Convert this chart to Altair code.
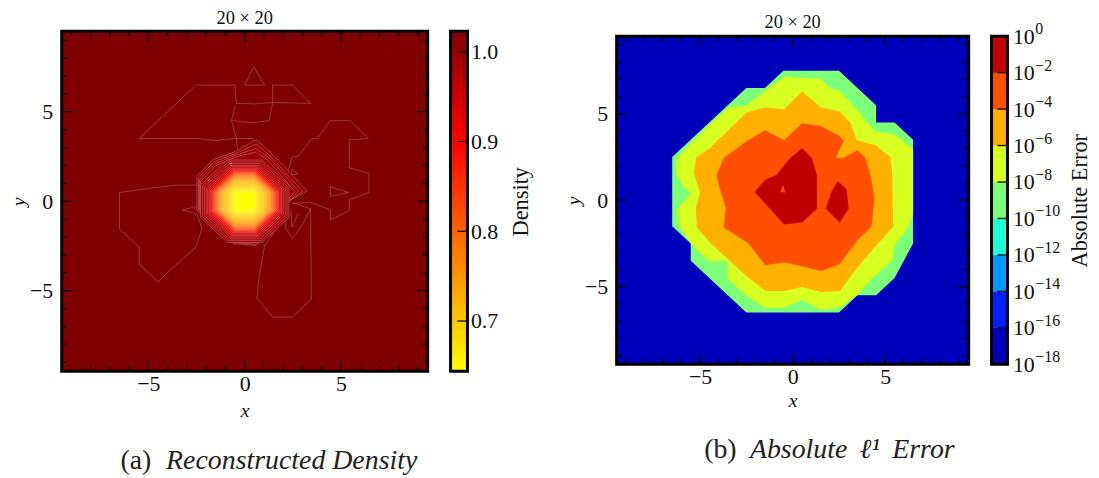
import altair as alt
import pandas as pd

FONT = "Liberation Serif"
# ---------- panel (b): contour outlines (x, y in data units) ----------
ERR_OUTER = [(-0.5,7.5),(2.5,7.5),(4.5,5.5),(4.5,4.5),(5.5,4.5),(6.5,3.5),(6.5,-2.5),(5.5,-4.5),(4.5,-5.5),(3.5,-5.5),(2.5,-6.5),(-2.5,-6.5),(-5.5,-3.5),(-5.5,-2.5),(-6.5,-1.5),(-6.5,2.5),(-2.5,6.5),(-1.5,6.5)]
ERR_YELLOW = [(-0.45,7.15),(1.5,7.03),(2.06,6.46),(2.54,6.34),(3.5,5.2),(4.47,3.98),(5.49,3.82),(6.5,2.96),(6.5,-0.83),(6.18,-1.69),(5.49,-2.61),(5.38,-3.47),(4.2,-4.62),(3.5,-5.48),(2.54,-6.23),(1.53,-6.34),(0.51,-5.77),(-0.46,-6.23),(-1.47,-6.23),(-2.49,-5.54),(-3.51,-4.56),(-3.51,-3.53),(-4.52,-3.53),(-5.49,-2.5),(-6.13,-1.52),(-6.24,-0.55),(-5.49,0.43),(-5.86,0.72),(-6.29,1.58),(-6.24,2.44),(-4.42,4.45),(-3.45,5.37),(-2.49,5.48),(-1.47,6.34)]
ERR_ORANGE = [(0.51,6.29),(1.53,5.37),(2.54,5.14),(3.13,4.45),(3.45,3.47),(4.47,3.19),(5.27,2.5),(5.38,1.46),(5.38,0.49),(5.43,-1.52),(4.47,-2.67),(3.51,-3.87),(2.54,-5.25),(1.53,-5.31),(0.51,-5.02),(-0.46,-5.25),(-1.47,-5.25),(-2.49,-4.39),(-4.42,-2.5),(-5.17,-1.58),(-5.22,-0.43),(-5.0,0.43),(-5.33,1.58),(-5.22,2.44),(-4.42,3.07),(-2.49,5.08),(-1.47,5.37),(-0.46,5.25)]
ERR_RED = [(0.51,4.45),(1.53,4.28),(2.54,3.7),(2.76,3.47),(2.33,2.44),(2.7,2.44),(3.51,2.9),(3.93,2.44),(4.2,1.46),(4.42,0.14),(4.26,-1.52),(3.45,-2.38),(2.54,-3.7),(1.53,-4.1),(0.51,-3.82),(-0.46,-3.59),(-1.47,-3.76),(-2.38,-2.5),(-3.72,-1.58),(-3.61,-0.43),(-3.99,0.89),(-4.1,1.46),(-3.72,2.44),(-2.49,3.42),(-1.47,4.05),(-0.46,3.47)]
ERR_DARK_A = [(0.51,3.01),(1.04,2.44),(1.31,1.46),(1.31,-0.49),(0.51,-1.29),(-0.46,-1.41),(-2.06,0.49),(-1.47,1.18),(-0.88,1.46),(-0.13,2.44)]
ERR_HOLE = [(-0.51,0.89),(-0.4,0.43),(-0.67,0.49)]
ERR_DARK_B = [(2.44,1.12),(2.92,0.6),(3.02,-0.49),(2.54,-1.29),(1.79,-0.49),(2.06,0.43)]
ERR_LAYERS = [(ERR_OUTER,"#7DFF7A"),(ERR_YELLOW,"#D7FF1F"),(ERR_ORANGE,"#FFB000"),(ERR_RED,"#FF4F00"),(ERR_DARK_A,"#C00000"),(ERR_HOLE,"#FF4F00"),(ERR_DARK_B,"#C00000")]
ERR_BAND_EDGES = [-18,-16,-14,-12,-10,-8,-6,-4,-2,0]
ERR_BAND_COLORS = ["#0000BB","#0020FF","#0098FF","#1FFFD7","#7DFF7A","#D7FF1F","#FFB000","#FF4F00","#C00000"]
ERR_TICKS = [-18,-16,-14,-12,-10,-8,-6,-4,-2,0]
ERR_EXPONENTS = ["−18","−16","−14","−12","−10","−8","−6","−4","−2","0"]

# ---------- panel (a): thin contour lines ----------
D_LINES = [
 [(-5.48,3.5),(-2.53,6.49),(-0.51,6.49),(-0.43,5.47),(0.51,5.44),(1.45,5.51),(3.42,5.47),(2.48,6.49),(1.45,6.49),(1.45,5.51),(1.28,4.5),(0.43,4.39),(-0.68,4.5),(-0.51,5.29)],
 [(-0.68,4.5),(-0.43,3.5),(-0.34,2.52)],
 [(-5.48,3.5),(-2.4,3.5),(-1.63,3.39),(-0.43,3.5),(0.43,3.5),(1.45,2.47)],
 [(0.48,7.51),(1.03,6.49),(0,6.49),(0.48,7.51)],
 [(2.22,1.47),(2.45,2.47),(2.79,2.52),(3.48,3.5),(3.77,3.5),(4.42,4.5),(5.48,4.5),(6.42,3.5),(5.43,3.44),(5.43,1.87),(6.45,1.54),(6.45,0.49),(5.43,0.08),(5.43,-0.53),(4.45,-1.04),(4.45,-0.49),(3.46,-0.07),(2.48,-0.12)],
 [(4.45,0.8),(5.39,0.49),(4.45,0.27),(4.45,0.8)],
 [(2.45,1.78),(2.77,1.54),(2.4,1.47),(2.45,1.78)],
 [(-2.52,0.9),(-3.65,0.9),(-6.5,0.49),(-6.5,-1.54),(-5.48,-2.56),(-5.48,-3.52),(-4.5,-4.5),(-3.54,-3.52),(-2.52,-2.56),(-2.22,-1.54),(-2.48,-0.71),(-3.22,-0.49),(-2.48,-0.3)],
 [(2.31,-0.43),(1.97,-1.08),(1.03,-2.47),(0.73,-4.4),(0.63,-5.42),(1.45,-6.47),(2.48,-6.47),(3.46,-5.47),(3.42,-0.43),(2.48,-0.07)],
 [(2.14,-0.43),(2.1,-1.45),(2.48,-2.06),(2.91,-1.45),(3.44,-0.42)],
 [(2.4,-0.53),(2.45,-1.45),(2.77,-0.71)],
]
D_OUTER_RINGS = [
 (1.0,[(-2.48,1.41),(-1.63,2.34),(-0.43,2.8),(0.6,3.44),(1.44,2.63),(3.24,0.58),(2.3,0.0),(2.14,-0.71),(0.6,-2.47),(-0.6,-2.37),(-2.48,-0.53)]),
 (1.0,[(-2.4,1.3),(-1.6,2.2),(-0.4,2.7),(0.6,3.2),(1.35,2.5),(3.0,0.55),(2.2,-0.05),(2.05,-0.7),(0.6,-2.4),(-0.6,-2.3),(-2.4,-0.5)]),
 (0.998,[(-2.35,1.2),(-1.55,2.1),(-0.4,2.6),(0.6,2.95),(1.3,2.4),(2.8,0.55),(2.15,-0.1),(2.0,-0.68),(0.58,-2.3),(-0.58,-2.25),(-2.35,-0.5)]),
 (0.995,[(-2.3,1.1),(-1.5,2.0),(-0.4,2.5),(0.6,2.75),(1.2,2.3),(2.6,0.55),(2.1,-0.1),(1.95,-0.66),(0.55,-2.25),(-0.55,-2.2),(-2.3,-0.5)]),
]
RING_A = [2.3,2.2,2.1,2.0,1.92,1.84,1.76,1.7,1.64,1.58,1.52,1.46,1.4,1.34,1.28,1.22,1.16,1.1,1.04,0.98,0.92,0.86,0.8,0.74,0.68,0.62,0.56]
RING_B = [0.9,0.85,0.8,0.75,0.7,0.66,0.62,0.59,0.56,0.53,0.5,0.5,0.5,0.5,0.5,0.5,0.5,0.5,0.5,0.5,0.5,0.5,0.5,0.5,0.5,0.5,0.5]
RING_D = [0.99,0.985,0.98,0.97,0.955,0.94,0.92,0.90,0.885,0.87,0.855,0.84,0.82,0.80,0.785,0.77,0.76,0.75,0.74,0.73,0.72,0.71,0.70,0.69,0.68,0.67,0.66]
D_CORE = [(-0.5,0.5),(0.5,0.5),(0.5,-0.5),(-0.5,-0.5)]
D_CORE_VALUE = 0.645
CMAP_DOMAIN = [0.644,0.9,1.023]
CMAP_RANGE = ["#ffff00","#ff0000","#7f0000"]
D_TICKS = [0.7,0.8,0.9,1.0]

MAJOR = [-5,0,5]
MINOR = [-9,-8,-7,-6,-4,-3,-2,-1,1,2,3,4,6,7,8,9]
DOM = [-9.5,9.5]
ONE = pd.DataFrame({"a":[0]})


def poly_df(points, gid=0, **extra):
    d = pd.DataFrame(points, columns=["x","y"])
    d["i"] = range(len(points)); d["g"] = gid
    for k,v in extra.items():
        d[k]=v
    return d


def frame(x0,x1,y0,y1):
    return alt.Chart(ONE).mark_rect(filled=False, stroke="black", strokeWidth=3).encode(
        x=alt.value(x0),x2=alt.value(x1),y=alt.value(y0),y2=alt.value(y1))


def make_axes(xtp):
    ax=alt.Axis(values=MAJOR,ticks=False,domain=False,grid=False,labelPadding=2,titlePadding=xtp,format="d",title="x")
    ay=alt.Axis(values=MAJOR,ticks=False,domain=False,grid=False,labelPadding=9,titlePadding=1,format="d",title="y")
    return ax,ay


def inward_ticks(w,h,xs,ys,ax,ay):
    out=[]
    for vals,size in ((MAJOR,10),(MINOR,5)):
        dfv=pd.DataFrame({"v":vals})
        X=alt.X("v:Q",scale=xs,axis=ax); Y=alt.Y("v:Q",scale=ys,axis=ay)
        out.append(alt.Chart(dfv).mark_rule(color="black",strokeWidth=1.3).encode(x=X,y=alt.value(0),y2=alt.value(size)))
        out.append(alt.Chart(dfv).mark_rule(color="black",strokeWidth=1.3).encode(x=X,y=alt.value(h),y2=alt.value(h-size)))
        out.append(alt.Chart(dfv).mark_rule(color="black",strokeWidth=1.3).encode(y=Y,x=alt.value(0),x2=alt.value(size)))
        out.append(alt.Chart(dfv).mark_rule(color="black",strokeWidth=1.3).encode(y=Y,x=alt.value(w),x2=alt.value(w-size)))
    return out


def base_rect(color,xs,ys,ax,ay):
    d=pd.DataFrame({"x":[DOM[0]],"x2":[DOM[1]],"y":[DOM[0]],"y2":[DOM[1]]})
    return alt.Chart(d).mark_rect(color=color).encode(x=alt.X("x:Q",scale=xs,axis=ax),x2="x2:Q",y=alt.Y("y:Q",scale=ys,axis=ay),y2="y2:Q")


def caption(prefix,body,xp,xb,y):
    return [alt.Chart(pd.DataFrame({"t":[prefix]})).mark_text(font=FONT,fontSize=28,align="left",baseline="alphabetic",color="#222").encode(text="t:N",x=alt.value(xp),y=alt.value(y)),
         alt.Chart(pd.DataFrame({"t":[body]})).mark_text(font=FONT,fontSize=28,fontStyle="italic",align="left",baseline="alphabetic",color="#222").encode(text="t:N",x=alt.value(xb),y=alt.value(y))]

# ---------- panel (a) ----------
W1,H1=368,342
AX1,AY1=make_axes(6)
xs1=alt.Scale(domain=DOM,nice=False,zero=False)
ys1=alt.Scale(domain=DOM,nice=False,zero=False)
color_scale=alt.Scale(domain=CMAP_DOMAIN,range=CMAP_RANGE,clamp=True)
rings=[]
gid=0
for d,pts in D_OUTER_RINGS:
    rings.append(poly_df(pts,gid,d=d)); gid+=1
for a,b,d in zip(RING_A,RING_B,RING_D):
    pts=[(-a,b),(-b,a),(b,a),(a,b),(a,-b),(b,-a),(-b,-a),(-a,-b)]
    rings.append(poly_df(pts,gid,d=d)); gid+=1
rings.append(poly_df(D_CORE,gid,d=D_CORE_VALUE))
rings_df=pd.concat(rings,ignore_index=True)
lines_df=pd.concat([poly_df(p,i) for i,p in enumerate(D_LINES)],ignore_index=True)

ring_layer=alt.Chart(rings_df).mark_line(interpolate="linear-closed",stroke="#ffffff",strokeOpacity=0.36,strokeWidth=0.7).encode(
    x=alt.X("x:Q",scale=xs1,axis=AX1),y=alt.Y("y:Q",scale=ys1,axis=AY1),order="i:Q",detail="g:N",
    fill=alt.Fill("d:Q",scale=color_scale,legend=None))
line_layer=alt.Chart(lines_df).mark_line(stroke="#ffffff",strokeOpacity=0.32,strokeWidth=0.7).encode(
    x=alt.X("x:Q",scale=xs1,axis=AX1),y=alt.Y("y:Q",scale=ys1,axis=AY1),order="i:Q",detail="g:N")
main1=alt.layer(base_rect("#7f0000",xs1,ys1,AX1,AY1),line_layer,ring_layer,*inward_ticks(W1,H1,xs1,ys1,AX1,AY1),frame(0,W1,0,H1))

CB1=(391,408)
ys_cb1=alt.Scale(domain=[0.644,1.023],nice=False,zero=False)
AX_CB1=alt.Axis(orient="right",offset=CB1[1]-W1,values=D_TICKS,format=".1f",ticks=False,domain=False,grid=False,labelPadding=3,titleAngle=270,titlePadding=35,titleFontStyle="normal",titleFontSize=22.5,title="Density")
GRAD=alt.LinearGradient(gradient="linear",x1=0,y1=1,x2=0,y2=0,stops=[alt.GradientStop(offset=0,color=CMAP_RANGE[0]),alt.GradientStop(offset=0.675,color=CMAP_RANGE[1]),alt.GradientStop(offset=1,color=CMAP_RANGE[2])])
cb1_bars=alt.Chart(pd.DataFrame({"lo":[0.644],"hi":[1.023]})).mark_rect(fill=GRAD).encode(
    x=alt.value(CB1[0]),x2=alt.value(CB1[1]),y=alt.Y("lo:Q",scale=ys_cb1,axis=AX_CB1),y2="hi:Q")
cb1_ticks=alt.Chart(pd.DataFrame({"v":D_TICKS})).mark_rule(color="black",strokeWidth=1.3).encode(
    y=alt.Y("v:Q",scale=ys_cb1,axis=AX_CB1),x=alt.value(CB1[1]),x2=alt.value(CB1[1]-10))
cb1=alt.layer(cb1_bars,cb1_ticks,frame(CB1[0],CB1[1],0,H1))
cap1=caption("(a)","Reconstructed Density",59,105,H1+98)
panel1=alt.layer(main1,cb1,*cap1).resolve_scale(y="independent").properties(width=W1,height=H1,
    title=alt.TitleParams("20 × 20",font=FONT,fontSize=18.5,fontWeight="normal",offset=2,anchor="middle",color="#111"))

# ---------- panel (b) ----------
W2,H2=354,330
AX2,AY2=make_axes(3)
xs2=alt.Scale(domain=DOM,nice=False,zero=False)
ys2=alt.Scale(domain=DOM,nice=False,zero=False)
err_layers=[]
for pts,col in ERR_LAYERS:
    err_layers.append(alt.Chart(poly_df(pts)).mark_line(interpolate="linear-closed",fill=col,strokeWidth=0).encode(
        x=alt.X("x:Q",scale=xs2,axis=AX2),y=alt.Y("y:Q",scale=ys2,axis=AY2),order="i:Q"))
main2=alt.layer(base_rect("#0000BB",xs2,ys2,AX2,AY2),*err_layers,*inward_ticks(W2,H2,xs2,ys2,AX2,AY2),frame(0,W2,0,H2))
CB2=(377,393)
band2=pd.DataFrame({"lo":ERR_BAND_EDGES[:-1],"hi":ERR_BAND_EDGES[1:],"c":ERR_BAND_COLORS})
ys_cb2=alt.Scale(domain=[-18,0],nice=False,zero=False)
AX_CB2=alt.Axis(orient="right",offset=CB2[1]-W2,values=ERR_TICKS,labelExpr="'10'",ticks=False,domain=False,grid=False,labelPadding=5,titleAngle=270,titlePadding=57,titleFontStyle="normal",titleFontSize=22.5,title="Absolute Error")
cb2_bars=alt.Chart(band2).mark_rect(strokeWidth=0.5).encode(
    x=alt.value(CB2[0]),x2=alt.value(CB2[1]),
    y=alt.Y("lo:Q",scale=ys_cb2,axis=AX_CB2),
    y2="hi:Q",fill=alt.Fill("c:N",scale=None),stroke=alt.Stroke("c:N",scale=None))
cb2_ticks=alt.Chart(pd.DataFrame({"v":ERR_TICKS})).mark_rule(color="black",strokeWidth=1.3).encode(
    y=alt.Y("v:Q",scale=ys_cb2,axis=AX_CB2),x=alt.value(CB2[1]),x2=alt.value(CB2[1]-10))
cb2_exp=alt.Chart(pd.DataFrame({"v":ERR_TICKS,"t":ERR_EXPONENTS})).mark_text(font=FONT,fontSize=16,align="left",baseline="middle",dy=-7,color="#111").encode(
    y=alt.Y("v:Q",scale=ys_cb2,axis=AX_CB2),x=alt.value(CB2[1]+28),text="t:N")
cb2=alt.layer(cb2_bars,cb2_ticks,cb2_exp,frame(CB2[0],CB2[1],0,H2))
cap2=caption("(b)","Absolute\u2009 ℓ¹\u2009 Error",88,134,H2+94)
# keeps the lower edge of this panel's bounds in step with the taller left panel
bound2=alt.Chart(ONE).mark_rule(strokeOpacity=0).encode(x=alt.value(0),y=alt.value(H2+106),y2=alt.value(H2+106))
panel2=alt.layer(main2,cb2,*cap2,bound2).resolve_scale(y="independent").properties(width=W2,height=H2,
    title=alt.TitleParams("20 × 20",font=FONT,fontSize=18.5,fontWeight="normal",offset=-10,anchor="middle",color="#111"))

chart=alt.hconcat(panel1,panel2,spacing=31,center=True).properties(padding={"left":0,"top":0,"right":0,"bottom":0}).configure_view(stroke=None).configure_axis(
    labelFont=FONT,labelFontSize=22,labelColor="#111",titleFont=FONT,titleFontSize=20,titleFontWeight="normal",titleColor="#111",titleFontStyle="italic")
chart.save("out.html",embed_options={"renderer":"svg","actions":False})
